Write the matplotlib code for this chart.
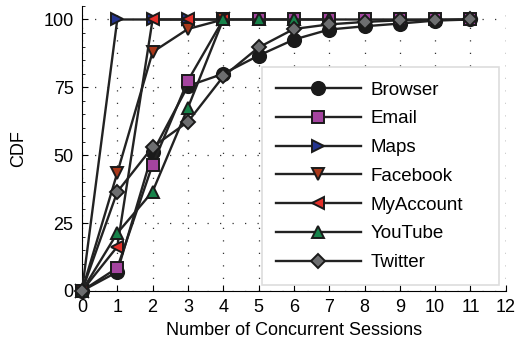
import matplotlib
matplotlib.use("Agg")
import matplotlib.pyplot as plt
from matplotlib.ticker import MultipleLocator

plt.rcParams['font.family'] = ['Liberation Sans', 'DejaVu Sans']

# number of concurrent sessions (x) and CDF values per app
browser = [0, 7, 51, 75.5, 80, 86.7, 92.6, 96.3, 97.5, 98.5, 99.6, 100]
email = [0, 8.5, 46.5, 77.5, 100, 100, 100, 100, 100, 100, 100, 100]
maps = [0, 100, 100, 100, 100]
facebook = [0, 43.5, 88, 96.5, 100]
myaccount = [0, 16.3, 100, 100, 100]
youtube = [0, 21.3, 36.6, 67.5, 100, 100, 100, 100]
twitter = [0, 36.5, 53, 62.3, 79, 89.7, 96.5, 98.2, 99.1, 99.7, 99.8, 100]

series = [
    ("Browser", browser, "o", "#1a1a1a", 9.5),
    ("Email", email, "s", "#a4449f", 8.5),
    ("Maps", maps, ">", "#24348e", 8.5),
    ("Facebook", facebook, "v", "#a8381a", 8.5),
    ("MyAccount", myaccount, "<", "#e3302a", 8.5),
    ("YouTube", youtube, "^", "#17834a", 8.5),
    ("Twitter", twitter, "D", "#6d6e70", 7),
]

fig = plt.figure(figsize=(5.22, 3.48), dpi=100)
ax = fig.add_axes([0.157, 0.164, 0.812, 0.819])

for name, vals, mk, col, ms in series:
    ax.plot(range(len(vals)), vals, color="#222222", lw=1.7, marker=mk,
            markersize=ms, markerfacecolor=col, markeredgecolor="#1a1a1a",
            markeredgewidth=1.4, label=name, clip_on=False, zorder=3)

ax.set_xlim(0, 12)
ax.set_ylim(0, 105)
ax.set_xticks(range(0, 13))
ax.set_yticks([0, 25, 50, 75, 100])
ax.yaxis.set_minor_locator(MultipleLocator(5))
ax.tick_params(axis="x", direction="in", labelsize=13, length=4, width=0.8, pad=6)
ax.tick_params(axis="y", direction="in", labelsize=13, length=4, width=0.8, pad=6)
ax.tick_params(which="minor", direction="in", length=2, width=0.6)
ax.grid(True, which="major", linestyle=(0, (1, 9)), color="#333333", lw=0.9)
ax.axvline(12, linestyle=(0, (1, 9)), color="#333333", lw=0.9)
for s in ["top", "right"]:
    ax.spines[s].set_visible(False)
ax.spines["left"].set_linewidth(0.8)
ax.spines["bottom"].set_linewidth(0.8)

ax.set_xlabel("Number of Concurrent Sessions", fontsize=13, labelpad=4)
ax.set_ylabel("CDF", fontsize=13, labelpad=12)

# legend box stretched to the width seen in the original
leg = ax.legend(loc="lower left", bbox_to_anchor=(0.425, 0.02, 0.56, 0.76), mode="expand",
                fontsize=13.5, handlelength=4.5, labelspacing=0.62,
                borderpad=0.75, fancybox=False, framealpha=1, borderaxespad=0,
                handletextpad=0.55)
leg.get_frame().set_edgecolor("#dddddd")
leg.get_frame().set_linewidth(1.2)

fig.savefig("out.png", dpi=100)
